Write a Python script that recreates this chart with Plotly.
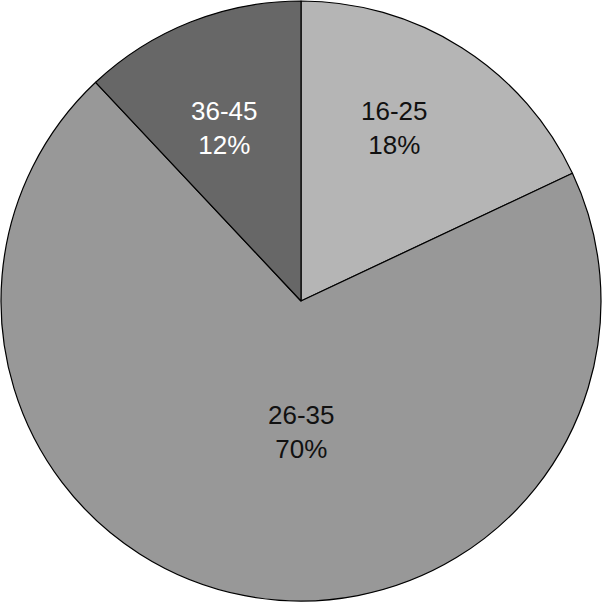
import math
import plotly.graph_objects as go

labels = ["16-25", "26-35", "36-45"]
values = [18, 70, 12]
colors = ["#b5b5b5", "#989898", "#676767"]
text_colors = ["#111111", "#111111", "#ffffff"]

# label placement (polar: degrees clockwise from 12 o'clock, fraction of radius)
label_angle = [28.5, 180.0, -24.0]
label_radius = [0.656, 0.437, 0.631]

fig = go.Figure(go.Pie(
    labels=labels,
    values=values,
    sort=False,
    direction="clockwise",
    rotation=0,
    marker=dict(colors=colors, line=dict(color="#000000", width=1.2)),
    textinfo="none",
    showlegend=False,
    hoverinfo="label+percent",
))

total = sum(values)
for lab, v, tc, ang, rf in zip(labels, values, text_colors, label_angle, label_radius):
    th = math.radians(ang)
    fig.add_annotation(
        x=0.5 + rf * math.sin(th) / 2,
        y=0.5 + rf * math.cos(th) / 2,
        xref="paper", yref="paper",
        xanchor="center", yanchor="middle",
        text=f"{lab}<br>{round(100 * v / total)}%",
        showarrow=False,
        font=dict(family="Liberation Sans, Arial, sans-serif", size=26, color=tc),
        align="center",
    )

fig.update_layout(
    width=604, height=604,
    margin=dict(l=1, r=3, t=1, b=3),
    paper_bgcolor="white",
    plot_bgcolor="white",
)
fig.write_html(
    "out.html",
    config={"displayModeBar": False},
    post_script="document.body.style.margin='0';document.body.style.overflow='hidden';",
)
